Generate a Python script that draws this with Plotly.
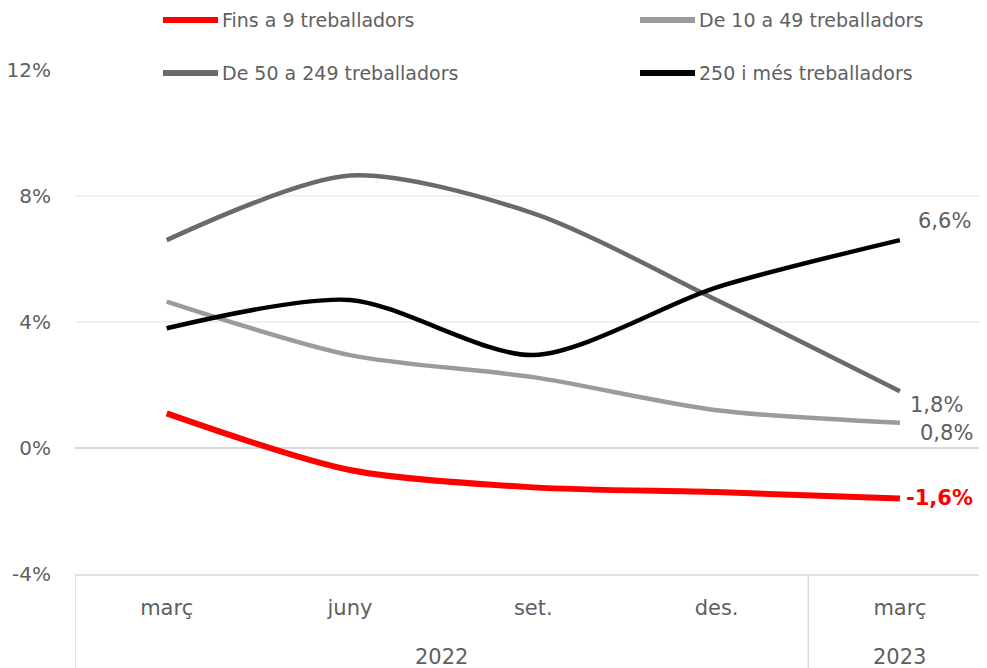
import plotly.graph_objects as go

years = ["2022", "2022", "2022", "2022", "2023"]
months = ["març", "juny", "set.", "des.", "març"]

series_names = ["Fins a 9 treballadors", "De 10 a 49 treballadors",
                "De 50 a 249 treballadors", "250 i més treballadors"]
fins9 = [1.1, -0.7, -1.25, -1.4, -1.6]
de10_49 = [4.65, 2.95, 2.25, 1.2, 0.8]
de50_249 = [6.6, 8.65, 7.45, 4.7, 1.8]
mes250 = [3.8, 4.7, 2.95, 5.1, 6.6]
all_values = [fins9, de10_49, de50_249, mes250]

y_tickvals = [-4, 0, 4, 8, 12]
y_ticktext = ["-4%", "0%", "4%", "8%", "12%"]

colors = ["#FF0000", "#9B9B9B", "#6A6A6A", "#000000"]
widths = [6, 4.5, 4.5, 4.5]
font_family = "DejaVu Sans, sans-serif"
text_color = "#5F5F5F"

xpos = list(range(len(months)))

fig = go.Figure()
for name, vals, c, w in zip(series_names, all_values, colors, widths):
    fig.add_trace(go.Scatter(x=xpos, y=vals, mode="lines", name=name,
                             line=dict(color=c, width=w, shape="spline", smoothing=0.8),
                             showlegend=False, cliponaxis=False))

# end labels
label_offsets = [(40, 0), (47, -10), (37, -14), (45, 19)]
for i, (vals, c, (dx, dy)) in enumerate(zip(all_values, colors, label_offsets)):
    txt = f"{vals[-1]:.1f}%".replace(".", ",")
    if i == 0:
        txt = "<b>" + txt + "</b>"
        col = "#FF0000"
    else:
        col = text_color
    fig.add_annotation(x=xpos[-1], y=vals[-1], xref="x", yref="y", text=txt, showarrow=False,
                       xshift=dx, yshift=dy, font=dict(size=21, color=col, family=font_family))

# year group labels and dividers
groups = []
for i, yv in enumerate(years):
    if groups and groups[-1][0] == yv:
        groups[-1][2] = i
    else:
        groups.append([yv, i, i])
for yv, i0, i1 in groups:
    fig.add_annotation(x=(xpos[i0] + xpos[i1]) / 2, y=0, xref="x", yref="paper",
                       text=yv, showarrow=False, yshift=-83, yanchor="middle",
                       font=dict(size=21, color=text_color, family=font_family))
    fig.add_shape(type="line", xref="x", yref="paper", x0=xpos[i0] - 0.5, x1=xpos[i0] - 0.5,
                  y0=0, y1=-0.2, line=dict(color="#D9D9D9", width=1.5))

# manual legend
W, H = 987, 668
leg_pos = [(163, 20), (640, 20), (163, 73), (640, 73)]
for name, c, (lx, ly) in zip(series_names, colors, leg_pos):
    fig.add_shape(type="line", xref="paper", yref="paper",
                  x0=(lx - 75) / 912, x1=(lx + 55 - 75) / 912,
                  y0=1 - (ly - 70) / 504, y1=1 - (ly - 70) / 504,
                  line=dict(color=c, width=6))
    fig.add_annotation(xref="paper", yref="paper", x=(lx + 57 - 75) / 912,
                       y=1 - (ly - 70) / 504, text=name, showarrow=False,
                       xanchor="left", yanchor="middle",
                       font=dict(size=19, color=text_color, family=font_family))

fig.update_layout(
    width=W, height=H,
    margin=dict(l=67, r=8, t=62, b=102, autoexpand=False),
    paper_bgcolor="white", plot_bgcolor="white",
    font=dict(family=font_family, size=19, color=text_color),
)
fig.update_xaxes(range=[-0.5, 4.475], tickvals=xpos, ticktext=months, automargin=False,
                 showline=True, linecolor="#E3E3E3", linewidth=1.5,
                 showgrid=False, zeroline=False, ticks="", ticklabelstandoff=14,
                 tickfont=dict(size=21, color=text_color, family=font_family))
fig.update_yaxes(range=[-4, 12], tickvals=y_tickvals, ticktext=y_ticktext, automargin=False,
                 showgrid=True, gridcolor="#F0F0F0", gridwidth=1.5,
                 zeroline=True, zerolinecolor="#D9D9D9", zerolinewidth=2,
                 showline=False, ticklabelstandoff=23,
                 tickfont=dict(size=20, color=text_color, family=font_family))

fig.write_html("out.html")
